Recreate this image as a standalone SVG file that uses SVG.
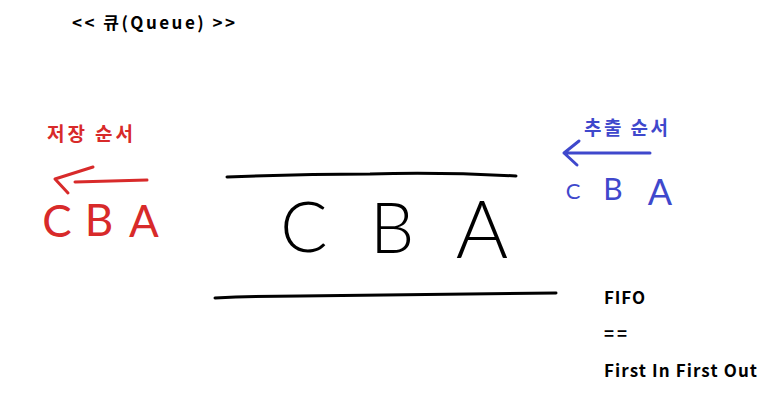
<svg xmlns="http://www.w3.org/2000/svg" width="780" height="405" viewBox="0 0 780 405">
<style>
.t{font-family:"Noto Sans CJK KR","Liberation Sans",sans-serif;font-weight:bold;}
.hand{font-family:"Lato","DejaVu Sans",sans-serif;font-weight:300;text-anchor:middle;}
.hand2{font-family:"Lato","DejaVu Sans",sans-serif;font-weight:normal;text-anchor:middle;}
.ln{fill:none;stroke-linecap:round;stroke-linejoin:round;}
</style>
<rect width="780" height="405" fill="#ffffff"/>
<g id="title"><text class="t" x="72" y="29" font-size="17" fill="#000" textLength="163" lengthAdjust="spacing">&lt;&lt; 큐(Queue)  &gt;&gt;</text></g>
<g id="queue">
<g id="connectors">
<path class="ln" d="M227,177 Q300,174 370,174 Q440,172 516,176" stroke="#000" stroke-width="3"/>
<path class="ln" d="M215,298 Q260,296 300,296 Q430,294 556,293" stroke="#000" stroke-width="3"/>
</g>
<text class="hand" x="304" y="252" font-size="70" fill="#000">C</text>
<text class="hand" x="392" y="253" font-size="70" fill="#000">B</text>
<text class="hand" x="482" y="258" font-size="80" fill="#000">A</text>
</g>
<g id="store">
<text class="t" x="47" y="141" font-size="19" fill="#d82a2a" textLength="86" lengthAdjust="spacing">저장 순서</text>
<path class="ln" d="M147,180 L75,182 M93,167 L55,179 L68,193" stroke="#d82a2a" stroke-width="3"/>
<text class="hand2" x="57" y="237" font-size="44" fill="#d82a2a">C</text>
<text class="hand2" x="99" y="236" font-size="44" fill="#d82a2a">B</text>
<text class="hand2" x="144" y="237" font-size="44" fill="#d82a2a">A</text>
</g>
<g id="extract">
<text class="t" x="584" y="135" font-size="19" fill="#3f48cc" textLength="84" lengthAdjust="spacing">추출 순서</text>
<path class="ln" d="M650,153 L564,153 M579,141 L564,153 L577,165" stroke="#3f48cc" stroke-width="3"/>
<text class="hand2" x="573" y="199" font-size="22" fill="#3f48cc">C</text>
<text class="hand2" x="613" y="200" font-size="30" fill="#3f48cc">B</text>
<text class="hand2" x="660" y="205" font-size="36" fill="#3f48cc">A</text>
</g>
<g id="fifo">
<text class="t" x="604" y="304" font-size="17" fill="#000" textLength="41" lengthAdjust="spacing">FIFO</text>
<text class="t" x="604" y="340" font-size="17" fill="#000" textLength="23" lengthAdjust="spacing">==</text>
<text class="t" x="604" y="377" font-size="17" fill="#000" textLength="153" lengthAdjust="spacing">First In First Out</text>
</g>
</svg>
